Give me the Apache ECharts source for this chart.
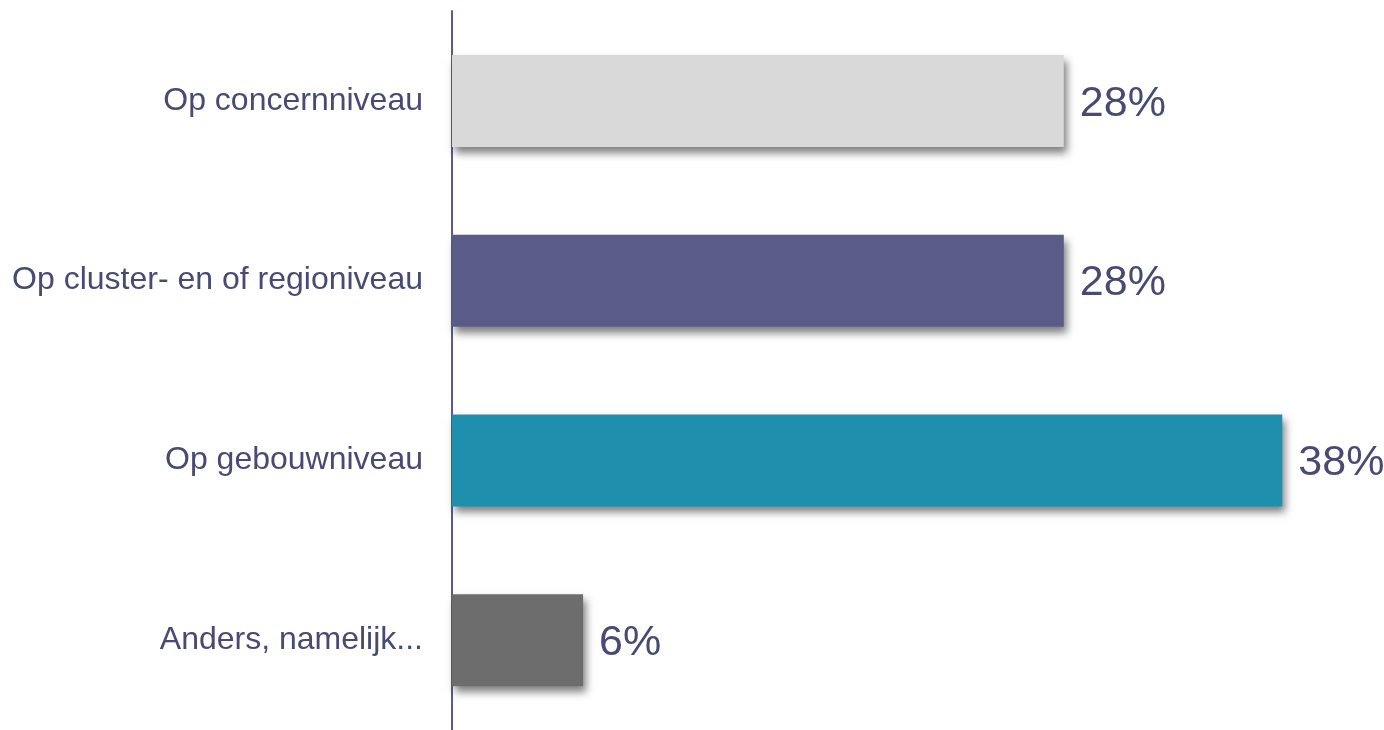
<!DOCTYPE html>
<html>
<head>
<meta charset="utf-8">
<script src="https://cdn.jsdelivr.net/npm/echarts@6/dist/echarts.min.js"></script>
<style>
  html, body { margin: 0; padding: 0; background: #ffffff; }
  #chart { width: 1384px; height: 730px; }
</style>
</head>
<body>
<div id="chart"></div>
<script>
// Categories, top to bottom
const categories = [
  'Op concernniveau',
  'Op cluster- en of regioniveau',
  'Op gebouwniveau',
  'Anders, namelijk...'
];
// Percentages per category
const values = [28, 28, 38, 6];
// Bar fill per category
const barColors = ['#d9d9d9', '#5b5b8a', '#1e8fac', '#6d6d6d'];

const chart = echarts.init(document.getElementById('chart'), null, { renderer: 'canvas' });

const textColor = '#474a72';

chart.setOption({
  animation: false,
  grid: { left: 452, right: 58, top: 11, bottom: -5, containLabel: false },
  xAxis: {
    type: 'value',
    min: 0,
    max: 40,
    show: false
  },
  yAxis: {
    type: 'category',
    inverse: true,
    data: categories,
    axisLine: { show: true, lineStyle: { color: '#5c5c88', width: 2 } },
    axisTick: { show: false },
    axisLabel: {
      margin: 29,
      color: textColor,
      fontFamily: 'Liberation Sans, Arial, sans-serif',
      fontSize: 32,
      padding: [5, 0, 0, 0]
    }
  },
  series: [{
    type: 'bar',
    barWidth: 92,
    data: values.map((v, i) => ({
      value: v,
      itemStyle: { color: barColors[i] }
    })),
    itemStyle: {
      shadowColor: 'rgba(0,0,0,0.5)',
      shadowBlur: 8,
      shadowOffsetX: 3,
      shadowOffsetY: 6
    },
    label: {
      show: true,
      position: 'right',
      distance: 16,
      offset: [0, 3],
      formatter: '{c}%',
      color: textColor,
      fontFamily: 'Liberation Sans, Arial, sans-serif',
      fontSize: 43
    }
  }]
});
</script>
</body>
</html>
